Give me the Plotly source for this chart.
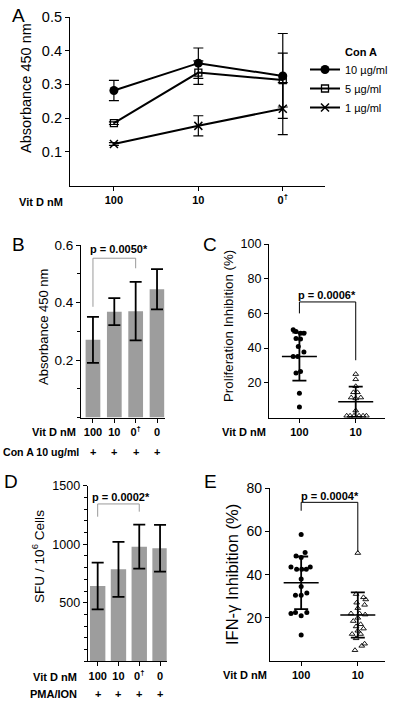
import plotly.graph_objects as go

W, H = 397, 704
FONT = "Liberation Sans, Arial, sans-serif"

# ---------------- data ----------------
# Panel A
a_cats = ["100", "10", "0†"]
a_series = ["10 µg/ml", "5 µg/ml", "1 µg/ml"]
a_10 = [0.282, 0.363, 0.325]
a_10_err = [0.030, 0.045, 0.126]
a_5 = [0.185, 0.335, 0.313]
a_5_err = [0.004, 0.035, 0.080]
a_1 = [0.123, 0.177, 0.228]
a_1_err = [0.004, 0.030, 0.077]

# Panel B
b_cats = ["100", "10", "0†", "0"]
b_vals = [0.270, 0.368, 0.370, 0.446]
b_err = [0.080, 0.047, 0.102, 0.070]
b_bracket_x = [0, 0, 2, 2]
b_bracket_y = [0.385, 0.554, 0.554, 0.519]
b_p = "p = 0.0050*"

# Panel C
c_cats = ["100", "10"]
c_100 = [50.6, 49.5, 48.6, 48.6, 45.5, 45.2, 40.9, 37.7, 35.1, 35.1, 25.7, 26.5, 14.0, 6.0]
c_100_jit = [-0.11, -0.06, 0.02, 0.08, -0.06, 0.02, -0.02, 0.08, -0.11, -0.03, -0.06, 0.02, 0.0, 0.0]
c_10 = [25.0, 22.0, 18.0, 14.5, 14.5, 11.5, 11.5, 11.0, 4.0, 1.0, 1.0, 1.0, 1.0, 1.0, 1.0]
c_10_jit = [0.0, 0.0, 0.0, -0.04, 0.03, -0.08, 0.09, 0.0, 0.0, -0.16, -0.1, -0.03, 0.06, 0.13, 0.19]
c_mean = [35.1, 9.1]
c_sd = [13.9, 8.7]
c_bracket_x = [0, 0, 1, 1]
c_bracket_y = [60.0, 66.6, 66.6, 33.0]
c_p = "p = 0.0006*"

# Panel D
d_cats = ["100", "10", "0†", "0"]
d_vals = [643, 785, 979, 965]
d_err = [200, 235, 188, 200]
d_bracket_x = [0, 0, 2, 2]
d_bracket_y = [1235, 1344, 1344, 1278]
d_p = "p = 0.0002*"

# Panel E
e_cats = ["100", "10"]
e_100 = [58.6, 50.3, 48.6, 48.0, 43.5, 42.5, 42.5, 42.5, 43.5, 38.0, 34.5, 30.5, 31.5, 30.5,
         22.5, 21.0, 22.5, 22.0, 12.0]
e_100_jit = [0.0, 0.07, -0.09, 0.0, -0.18, -0.08, 0.01, 0.09, 0.16, 0.0, 0.0, -0.1, 0.1, 0.0,
             -0.1, 0.0, 0.1, -0.18, 0.0]
e_10 = [50.0, 31.0, 29.5, 28.5, 27.0, 26.0, 24.5, 22.0, 22.0, 21.5, 20.0, 18.5, 17.0, 16.0,
        15.0, 14.0, 12.5, 12.5, 10.5, 8.0, 7.0, 5.0]
e_10_jit = [0.0, -0.03, 0.1, 0.14, -0.02, 0.12, 0.0, -0.12, 0.03, 0.13, 0.0, -0.08, 0.05, -0.03,
            0.1, 0.0, -0.1, 0.05, -0.03, 0.12, 0.07, -0.05]
e_mean = [36.2, 21.3]
e_sd = [12.2, 10.5]
e_bracket_x = [0, 0, 1, 1]
e_bracket_y = [69.6, 73.5, 73.5, 50.6]
e_p = "p = 0.0004*"

# ---------------- helpers ----------------
def fx(px):
    return px / W

def fy(py):
    return 1 - py / H

def bold(t):
    return "<b>" + t.replace("†", "<sup>†</sup>") + "</b>"

fig = go.Figure()
annotations = []

def ann(text, px, py, size, xanchor="center", angle=0, b=False):
    annotations.append(dict(
        text=("<b>%s</b>" % text) if b else text, x=fx(px), y=fy(py),
        xref="paper", yref="paper", xanchor=xanchor, yanchor="middle",
        showarrow=False, textangle=angle,
        font=dict(family=FONT, size=size, color="black")))

axis_common = dict(showline=True, linecolor="black", linewidth=1.2, ticks="outside",
                   tickcolor="black", ticklen=4, tickwidth=1.2, showgrid=False,
                   zeroline=False, fixedrange=True)

def xax(domain, rng, cats, anchor, size=11):
    d = dict(axis_common)
    d.update(domain=[fx(domain[0]), fx(domain[1])], range=rng, anchor=anchor,
             tickmode="array", tickvals=list(range(len(cats))),
             ticktext=[bold(c) for c in cats],
             tickfont=dict(family=FONT, size=size, color="black"))
    return d

def yax(domain, rng, tickvals, anchor, size, fmt=None, minor=None):
    d = dict(axis_common)
    d.update(domain=[fy(domain[1]), fy(domain[0])], range=rng, anchor=anchor,
             tickmode="array", tickvals=tickvals,
             tickfont=dict(family=FONT, size=size, color="black"))
    if fmt:
        d["tickformat"] = fmt
    if minor:
        d["minor"] = dict(dtick=minor, tick0=0, ticks="outside", ticklen=2.5,
                          tickcolor="black", tickwidth=1)
    return d

# ---------------- Panel A ----------------
ax_pos = list(range(len(a_cats)))
a_styles = [
    (a_10, a_10_err, dict(symbol="circle", size=9, color="black")),
    (a_5, a_5_err, dict(symbol="square-open", size=7, color="black", line=dict(width=1.3, color="black"))),
    (a_1, a_1_err, dict(symbol="x-thin", size=8, color="black", line=dict(width=1.5, color="black"))),
]
for name, (vals, errs, mk) in zip(a_series, a_styles):
    fig.add_trace(go.Scatter(
        x=ax_pos, y=vals, name=name, mode="lines+markers", xaxis="x", yaxis="y",
        line=dict(color="black", width=2), marker=mk, cliponaxis=False,
        error_y=dict(type="data", array=errs, visible=True, color="black",
                     thickness=1.2, width=5)))

# ---------------- Panel B ----------------
fig.add_trace(go.Bar(
    x=list(range(len(b_cats))), y=b_vals, xaxis="x2", yaxis="y2", width=0.69,
    marker=dict(color="#9d9d9d", line=dict(width=0)), showlegend=False,
    error_y=dict(type="data", array=b_err, visible=True, color="black", thickness=1.8, width=6)))
fig.add_trace(go.Scatter(x=b_bracket_x, y=b_bracket_y, mode="lines", xaxis="x2", yaxis="y2",
                         line=dict(color="#9a9a9a", width=1), showlegend=False, cliponaxis=False))

# ---------------- Panel C ----------------
def dots(vals, jit, idx, xa, ya, symbol, size, lw):
    fig.add_trace(go.Scatter(
        x=[idx + j for j in jit], y=vals, mode="markers", xaxis=xa, yaxis=ya,
        marker=dict(symbol=symbol, size=size, color="black", line=dict(width=lw, color="black")),
        showlegend=False, cliponaxis=False))

def meansd(means, sds, xa, ya):
    fig.add_trace(go.Scatter(
        x=list(range(len(means))), y=means, mode="markers", xaxis=xa, yaxis=ya,
        marker=dict(symbol="line-ew", size=25, color="black", line=dict(width=1.5, color="black")),
        error_y=dict(type="data", array=sds, visible=True, color="black", thickness=1.8, width=7),
        showlegend=False, cliponaxis=False))

dots(c_100, c_100_jit, 0, "x3", "y3", "circle", 5, 0)
dots(c_10, c_10_jit, 1, "x3", "y3", "triangle-up-open", 5, 0.9)
meansd(c_mean, c_sd, "x3", "y3")
fig.add_trace(go.Scatter(x=c_bracket_x, y=c_bracket_y, mode="lines", xaxis="x3", yaxis="y3",
                         line=dict(color="black", width=1), showlegend=False, cliponaxis=False))

# ---------------- Panel D ----------------
fig.add_trace(go.Bar(
    x=list(range(len(d_cats))), y=d_vals, xaxis="x4", yaxis="y4", width=0.74,
    marker=dict(color="#9d9d9d", line=dict(width=0)), showlegend=False,
    error_y=dict(type="data", array=d_err, visible=True, color="black", thickness=1.8, width=6)))
fig.add_trace(go.Scatter(x=d_bracket_x, y=d_bracket_y, mode="lines", xaxis="x4", yaxis="y4",
                         line=dict(color="#9a9a9a", width=1), showlegend=False, cliponaxis=False))

# ---------------- Panel E ----------------
dots(e_100, e_100_jit, 0, "x5", "y5", "circle", 5, 0)
dots(e_10, e_10_jit, 1, "x5", "y5", "triangle-up-open", 5, 0.9)
meansd(e_mean, e_sd, "x5", "y5")
fig.add_trace(go.Scatter(x=e_bracket_x, y=e_bracket_y, mode="lines", xaxis="x5", yaxis="y5",
                         line=dict(color="black", width=1), showlegend=False, cliponaxis=False))

# ---------------- text ----------------
# panel letters
for letter, px, py in [("A", 18, 15), ("B", 18, 244), ("C", 210, 244), ("D", 11, 481), ("E", 210, 481)]:
    ann(letter, px, py, 19)

# y titles
ann("Absorbance 450 nm", 26, 88, 14.5, angle=-90)
ann("Absorbance 450 nm", 43, 327, 13, angle=-90)
ann("Proliferation Inhibition (%)", 228, 326, 13.3, angle=-90)
ann("SFU / 10<sup>6</sup> Cells", 38, 557, 13.6, angle=-90)
ann("IFN-γ Inhibition (%)", 232, 575, 16.5, angle=-90)

# row labels
ann("Vit D nM", 65, 202, 11, xanchor="right", b=True)
ann("Vit D nM", 78, 432, 11, xanchor="right", b=True)
ann("Con A 10 ug/ml", 1, 452, 10.6, xanchor="left", b=True)
ann("Vit D nM", 268, 432, 11, xanchor="right", b=True)
ann("Vit D nM", 79, 677, 11, xanchor="right", b=True)
ann("PMA/ION", 79, 694, 11, xanchor="right", b=True)
ann("Vit D nM", 269, 675, 11, xanchor="right", b=True)

# plus signs
for i in range(len(b_cats)):
    annotations.append(dict(text="<b>+</b>", x=i, y=fy(452), xref="x2", yref="paper",
                            showarrow=False, yanchor="middle",
                            font=dict(family=FONT, size=11, color="black")))
for i in range(len(d_cats)):
    annotations.append(dict(text="<b>+</b>", x=i, y=fy(694), xref="x4", yref="paper",
                            showarrow=False, yanchor="middle",
                            font=dict(family=FONT, size=11, color="black")))

# p-values
ann(b_p, 119, 249, 11, b=True)
ann(c_p, 327, 295, 11, b=True)
ann(d_p, 121, 497, 11, b=True)
ann(e_p, 330, 496, 11, b=True)

# legend title
ann("Con A", 343, 52, 11, xanchor="left", b=True)

fig.update_layout(
    width=W, height=H, margin=dict(l=0, r=0, t=0, b=0, autoexpand=False),
    paper_bgcolor="white", plot_bgcolor="white",
    font=dict(family=FONT, color="black"),
    showlegend=True,
    legend=dict(x=fx(305), y=fy(55), xanchor="left", yanchor="top",
                font=dict(family=FONT, size=11, color="black"),
                bgcolor="rgba(0,0,0,0)", tracegroupgap=0, itemwidth=30),
    annotations=annotations,
    xaxis=xax((70, 325), [-0.52, 2.5], a_cats, "y"),
    yaxis=yax((17, 185.5), [0, 0.5], [0.1, 0.2, 0.3, 0.4, 0.5], "x", 14.5, fmt=".1f"),
    xaxis2=xax((81, 164.5), [-0.56, 3.35], b_cats, "y2"),
    yaxis2=yax((245, 417.5), [0, 0.6], [0.2, 0.4, 0.6], "x2", 13.5, fmt=".1f", minor=0.1),
    xaxis3=xax((269, 385), [-0.54, 1.52], c_cats, "y3"),
    yaxis3=yax((244, 417.5), [0, 100], [20, 40, 60, 80, 100], "x3", 12.5),
    xaxis4=xax((87.7, 166.7), [-0.48, 3.32], d_cats, "y4"),
    yaxis4=yax((485.7, 661.2), [0, 1500], [500, 1000, 1500], "x4", 12.5, minor=100),
    xaxis5=xax((270, 385), [-0.55, 1.48], e_cats, "y5"),
    yaxis5=yax((488.3, 661), [0, 80], [20, 40, 60, 80], "x5", 14),
)

fig.write_html("out.html", config={"displayModeBar": False},
               post_script="document.body.style.margin='0px';document.body.style.overflow='hidden';")
